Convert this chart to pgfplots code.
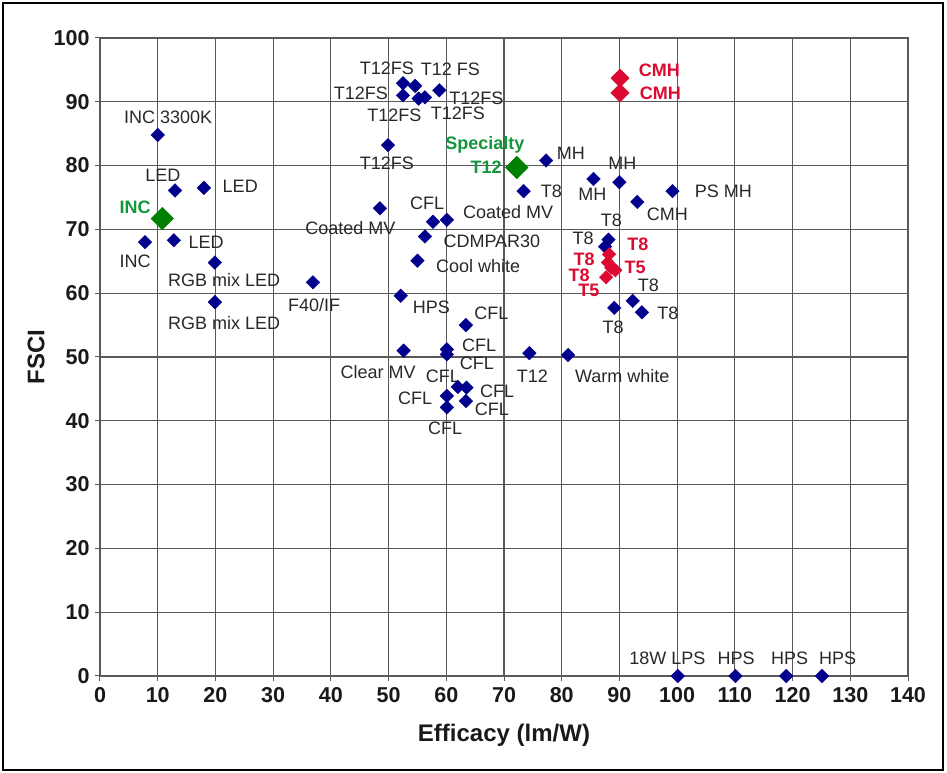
\documentclass[border=0pt]{standalone}
\usepackage{pgfplots}
\pgfplotsset{compat=1.18}
\usepackage{fontspec}
\setmainfont{Liberation Sans}
\definecolor{navy}{RGB}{0,0,140}
\definecolor{dgreen}{RGB}{0,128,0}
\definecolor{lgreen}{RGB}{20,150,60}
\definecolor{cred}{RGB}{220,10,50}
\definecolor{lab}{RGB}{40,40,40}
\begin{document}
\begin{tikzpicture}
\path (-100pt,-97pt) rectangle (847pt,676pt);
\draw[line width=1.5pt] (-97pt,-94pt) rectangle (843pt,673pt);
\begin{axis}[
  at={(0,0)}, anchor=south west,
  scale only axis, width=808pt, height=638pt,
  xmin=0, xmax=140, ymin=0, ymax=100,
  xtick={0,10,...,140}, ytick={0,10,...,100},
  grid=major,
  major grid style={black!65, line width=1.1pt},
  axis line style={black!65, line width=1.1pt},
  tick style={black!65, line width=1pt},
  major tick length=5pt,
  tick align=outside,
  xtick pos=bottom, ytick pos=left,
  /pgf/number format/assume math mode=true,
  ticklabel style={font=\fontsize{21.5}{24}\selectfont\bfseries, text=black!90},
  xticklabel style={yshift=-3pt},
  yticklabel style={xshift=-2pt},
  xlabel={Efficacy (lm/W)}, ylabel={FSCI},
  label style={font=\fontsize{24}{28}\selectfont\bfseries, text=black!90},
  xlabel style={yshift=-14pt},
  ylabel style={yshift=2pt},
  clip=false,
]
\addplot[only marks, mark=square*, mark size=4.8pt, mark options={rotate=45, fill=navy, draw=navy}, color=navy] table {
x y
10 84.8
13 76.1
18 76.5
7.8 68.0
12.8 68.3
19.9 64.8
19.9 58.6
36.9 61.7
48.5 73.3
49.9 83.2
52.5 92.9
54.6 92.5
52.5 91.0
55.2 90.5
56.3 90.7
58.8 91.8
73.4 76.0
77.3 80.8
57.7 71.2
60.1 71.5
56.3 68.9
55.0 65.1
52.1 59.6
63.4 55.0
52.6 51.0
60.1 51.2
60.1 50.4
74.4 50.6
81.1 50.3
62.0 45.3
63.5 45.2
60.1 43.9
63.4 43.1
60.1 42.1
89.1 57.7
92.3 58.8
93.9 57.0
85.5 77.9
90.0 77.4
93.1 74.3
99.2 76.0
88.1 68.4
87.5 67.3
100.1 0
110.1 0
118.9 0
125.1 0
};
\addplot[only marks, mark=square*, mark size=4.8pt, mark options={rotate=45, fill=cred, draw=cred}, color=cred] table {
x y
88.2 66.1
88.0 64.8
88.6 64.0
89.3 63.6
87.7 62.5
};
\addplot[only marks, mark=square*, mark size=6.5pt, mark options={rotate=45, fill=cred, draw=cred}, color=cred] table {
x y
90.1 93.7
90.1 91.4
};
\addplot[only marks, mark=square*, mark size=8pt, mark options={rotate=45, fill=dgreen, draw=dgreen}, color=dgreen] table {
x y
10.8 71.7
72.2 79.7
};
% labels
\begin{scope}[every node/.style={font=\fontsize{18}{20}\selectfont, text=lab, inner sep=0pt}]
\node at (axis cs:11.8,87.5) {INC 3300K};
\node at (axis cs:10.9,78.5) {LED};
\node at (axis cs:24.3,76.8) {LED};
\node at (axis cs:6.1,65.0) {INC};
\node at (axis cs:18.4,68.0) {LED};
\node at (axis cs:21.5,62.1) {RGB mix LED};
\node at (axis cs:21.5,55.3) {RGB mix LED};
\node at (axis cs:37.1,58.2) {F40/IF};
\node at (axis cs:43.4,70.2) {Coated MV};
\node at (axis cs:49.7,80.4) {T12FS};
\node at (axis cs:49.7,95.3) {T12FS};
\node at (axis cs:60.7,95.1) {T12 FS};
\node at (axis cs:45.2,91.4) {T12FS};
\node at (axis cs:65.2,90.6) {T12FS};
\node at (axis cs:51.0,87.9) {T12FS};
\node at (axis cs:62.0,88.2) {T12FS};
\node at (axis cs:81.6,82.0) {MH};
\node at (axis cs:78.2,75.9) {T8};
\node at (axis cs:70.7,72.7) {Coated MV};
\node at (axis cs:56.7,74.1) {CFL};
\node at (axis cs:67.9,68.2) {CDMPAR30};
\node at (axis cs:65.5,64.3) {Cool white};
\node at (axis cs:57.4,57.8) {HPS};
\node at (axis cs:67.8,56.9) {CFL};
\node at (axis cs:65.7,51.8) {CFL};
\node at (axis cs:65.3,49.0) {CFL};
\node at (axis cs:59.4,47.0) {CFL};
\node at (axis cs:48.2,47.6) {Clear MV};
\node at (axis cs:54.6,43.6) {CFL};
\node at (axis cs:68.8,44.7) {CFL};
\node at (axis cs:67.9,41.8) {CFL};
\node at (axis cs:59.8,38.9) {CFL};
\node at (axis cs:74.9,47.0) {T12};
\node at (axis cs:90.5,47.0) {Warm white};
\node at (axis cs:90.5,80.3) {MH};
\node at (axis cs:85.3,75.5) {MH};
\node at (axis cs:108.0,76.0) {PS MH};
\node at (axis cs:88.6,71.5) {T8};
\node at (axis cs:98.3,72.3) {CMH};
\node at (axis cs:83.7,68.6) {T8};
\node at (axis cs:95.0,61.3) {T8};
\node at (axis cs:88.9,54.7) {T8};
\node at (axis cs:98.4,56.9) {T8};
\node at (axis cs:98.3,2.8) {18W LPS};
\node at (axis cs:110.2,2.8) {HPS};
\node at (axis cs:119.5,2.8) {HPS};
\node at (axis cs:127.8,2.8) {HPS};
\end{scope}
\begin{scope}[every node/.style={font=\fontsize{18}{20}\selectfont\bfseries, text=cred, inner sep=0pt}]
\node at (axis cs:96.9,95.0) {CMH};
\node at (axis cs:97.1,91.4) {CMH};
\node at (axis cs:93.2,67.6) {T8};
\node at (axis cs:83.9,65.3) {T8};
\node at (axis cs:92.7,64.1) {T5};
\node at (axis cs:83.0,62.8) {T8};
\node at (axis cs:84.7,60.4) {T5};
\end{scope}
\begin{scope}[every node/.style={font=\fontsize{18}{20}\selectfont\bfseries, text=lgreen, inner sep=0pt}]
\node at (axis cs:6.1,73.4) {INC};
\node at (axis cs:66.7,83.2) {Specialty};
\node at (axis cs:66.9,79.8) {T12};
\end{scope}
\end{axis}
\end{tikzpicture}
\end{document}
